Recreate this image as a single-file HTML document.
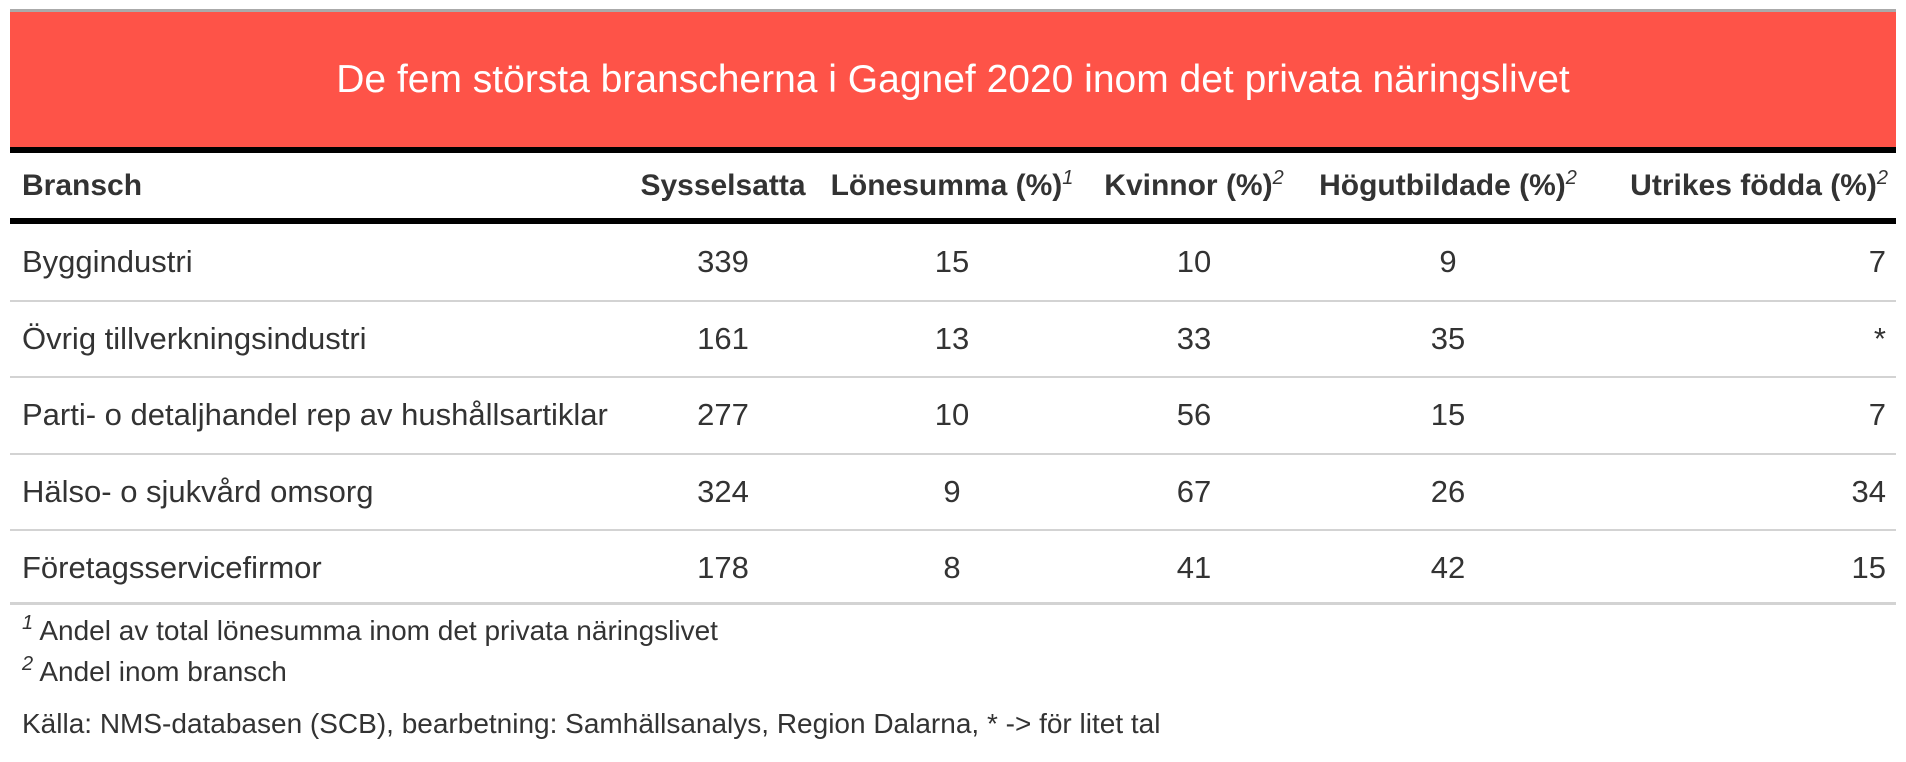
<!DOCTYPE html>
<html><head><meta charset="utf-8">
<style>
body{margin:0;width:1906px;height:762px;background:#fff;font-family:"Liberation Sans",sans-serif;color:#333;position:relative;overflow:hidden}
.a{position:absolute;white-space:nowrap}
#topline{left:10px;top:9px;width:1886px;height:3px;background:#aaa}
#title{left:10px;top:12px;width:1886px;height:135px;background:#fe5348;color:#fff;font-size:39px;line-height:135px;text-align:center}
.thick{left:10px;width:1886px;height:6px;background:#000}
.thin{left:10px;width:1886px;height:2px;background:#d3d3d3}
.h{font-weight:bold;font-size:30px;line-height:40px;top:166px}
.c{font-size:31px;line-height:40px}
sup{font-style:italic;font-weight:normal;font-size:20px;vertical-align:11px;line-height:0}
.fn{font-size:28px;line-height:34px;left:22px}
</style></head><body>
<div class="a" id="topline"></div>
<div class="a" id="title">De fem största branscherna i Gagnef 2020 inom det privata näringslivet</div>
<div class="a thick" style="top:147px"></div>
<div class="a h" style="left:22px">Bransch</div>
<div class="a h" style="left:723px;transform:translateX(-50%)">Sysselsatta</div>
<div class="a h" style="left:952px;transform:translateX(-50%)">Lönesumma (%)<sup>1</sup></div>
<div class="a h" style="left:1194px;transform:translateX(-50%)">Kvinnor (%)<sup>2</sup></div>
<div class="a h" style="left:1448px;transform:translateX(-50%)">Högutbildade (%)<sup>2</sup></div>
<div class="a h" style="right:18px">Utrikes födda (%)<sup>2</sup></div>
<div class="a thick" style="top:218px"></div>
<div id="rows"></div>
<div class="a thin" style="top:602px;height:3px"></div>
<div class="a fn" style="top:614px"><sup>1</sup> Andel av total lönesumma inom det privata näringslivet</div>
<div class="a fn" style="top:655px"><sup>2</sup> Andel inom bransch</div>
<div class="a fn" style="top:707px">Källa: NMS-databasen (SCB), bearbetning: Samhällsanalys, Region Dalarna, * -&gt; för litet tal</div>
<script>
const branscher=["Byggindustri","Övrig tillverkningsindustri","Parti- o detaljhandel rep av hushållsartiklar","Hälso- o sjukvård omsorg","Företagsservicefirmor"];
const sysselsatta=["339","161","277","324","178"];
const lonesumma=["15","13","10","9","8"];
const kvinnor=["10","33","56","67","41"];
const hogutbildade=["9","35","15","26","42"];
const utrikes=["7","*","7","34","15"];
const root=document.getElementById('rows');
const rowTop=224, rowH=76.5;
function cell(txt,top,style,name){
  const d=document.createElement('div');
  d.className='a c';
  d.setAttribute('style','top:'+top+'px;'+style);
  d.textContent=txt;
  
  
  root.appendChild(d);
}
branscher.forEach((b,i)=>{
  const y=rowTop+i*rowH;
  const t=y+rowH/2-20;
  cell(b,t,'left:22px','cell-bransch');
  cell(sysselsatta[i],t,'left:723px;transform:translateX(-50%)','cell-sysselsatta');
  cell(lonesumma[i],t,'left:952px;transform:translateX(-50%)','cell-lonesumma');
  cell(kvinnor[i],t,'left:1194px;transform:translateX(-50%)','cell-kvinnor');
  cell(hogutbildade[i],t,'left:1448px;transform:translateX(-50%)','cell-hogutbildade');
  cell(utrikes[i],t,'right:20px','cell-utrikes');
  if(i<branscher.length-1){
    const l=document.createElement('div');
    l.className='a thin';
    l.style.top=(y+rowH-1)+'px';
    
    
    root.appendChild(l);
  }
});
</script>
</body></html>
